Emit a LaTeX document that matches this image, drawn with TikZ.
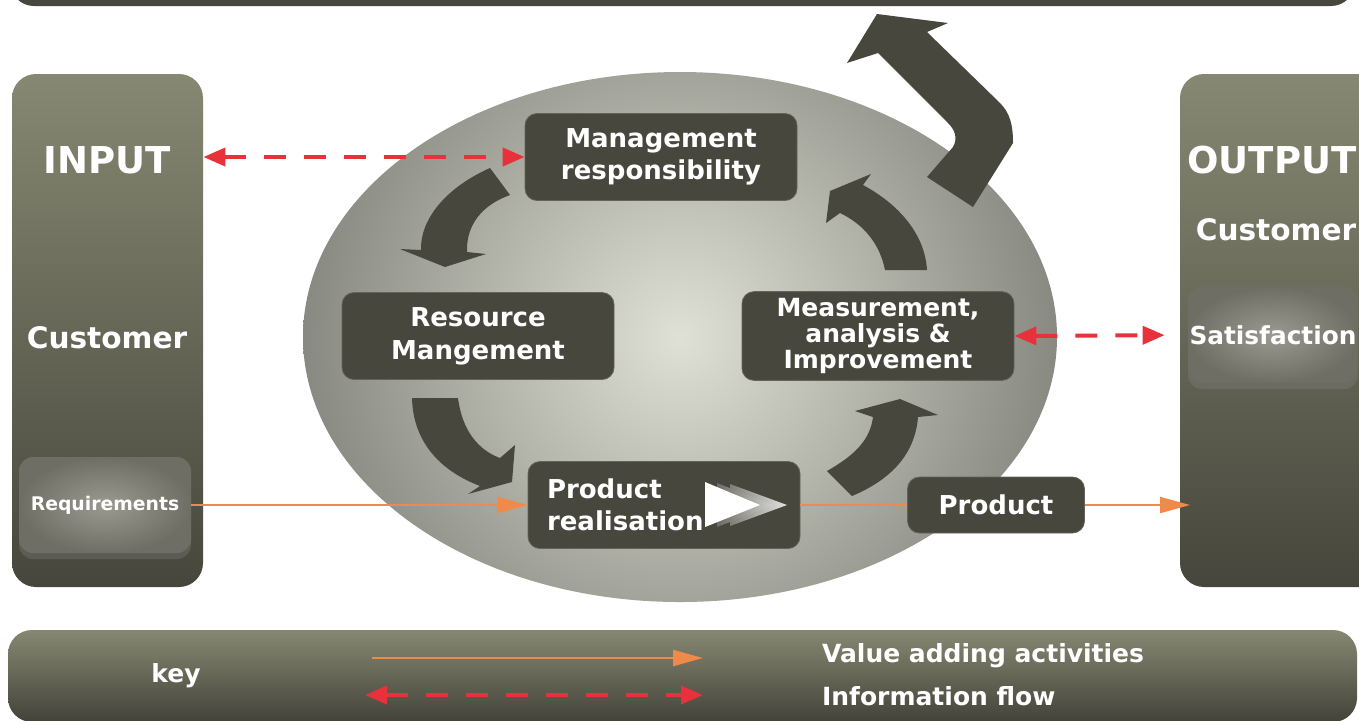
\documentclass[tikz,border=0pt]{standalone}
\usepackage{fontspec}
\setmainfont{DejaVu Sans}
\usetikzlibrary{arrows.meta,shadows}

\definecolor{darkbox}{HTML}{47473D}
\definecolor{coltop}{HTML}{878872}
\definecolor{colbottom}{HTML}{46463C}
\definecolor{infored}{HTML}{E8313A}
\definecolor{valueorange}{HTML}{F08A4B}
\definecolor{ovallight}{HTML}{E0E1D6}
\definecolor{ovaldark}{HTML}{85867D}
\definecolor{softlight}{HTML}{9A9A90}
\definecolor{softdark}{HTML}{6E6E64}

\begin{document}
\begin{tikzpicture}
  [x=0.5pt,y=-0.5pt,
   every node/.style={text=white,font=\bfseries},
   column/.style={top color=coltop,bottom color=colbottom,rounded corners=12pt,minimum height=256.5pt},
   stage/.style={fill=darkbox,draw=darkbox!85!white,rounded corners=6pt,minimum width=136pt,minimum height=43.5pt,align=center,font=\bfseries\fontsize{13}{16}\selectfont},
   softbox/.style={inner color=softlight,outer color=softdark,rounded corners=7pt,minimum width=86pt,minimum height=48pt,inner xsep=0pt,
     drop shadow={opacity=0.35,shadow xshift=0pt,shadow yshift=-3pt}},
   keytext/.style={anchor=west,font=\bfseries\fontsize{12.5}{14}\selectfont},
   info/.style={draw=infored,line width=2pt,dash pattern=on 11pt off 9pt,{Triangle[length=11pt,width=9pt]}-{Triangle[length=11pt,width=9pt]}},
   value/.style={draw=valueorange,line width=1pt,-{Triangle[length=15pt,width=8pt]}},
   bigarrow/.style={fill=darkbox}]
  \useasboundingbox (0,0) rectangle (1359,720);
  \clip (0,0) rectangle (1359,720);

  % top bar and key bar
  \fill[darkbox,rounded corners=12pt] (10,-40) rectangle (1355,6);
  \shade[top color=coltop,bottom color=colbottom!95!black,rounded corners=12pt] (8,630) rectangle (1357,722);

  % oval
  \begin{scope}
    \clip (680,337) ellipse [x radius=377,y radius=265];
    \shade[inner color=ovallight,outer color=ovaldark] (680,337) circle [radius=390];
  \end{scope}

  % input and output columns
  \node[column,minimum width=95.5pt] (incol) at (107.5,330.5) {};
  \node[column,minimum width=110pt] (outcol) at (1290,330.5) {};

  \node[font=\bfseries\fontsize{18.5}{20}\selectfont] (input) at (107,160) {INPUT};
  \node[font=\bfseries\fontsize{14.8}{16}\selectfont] (incust) at (107,338) {Customer};
  \node[softbox,font=\bfseries\fontsize{9.4}{11}\selectfont] (req) at (105,505) {Requirements};

  \node[font=\bfseries\fontsize{18.5}{20}\selectfont] (output) at (1272,160) {OUTPUT};
  \node[font=\bfseries\fontsize{14.8}{16}\selectfont] (outcust) at (1276,230) {Customer};
  \node[softbox,minimum width=85pt,font=\bfseries\fontsize{12.4}{14}\selectfont] (satis) at (1273,335) {Satisfaction};

  % cycle arrows
  \fill[bigarrow] (490,168) .. controls (445,188) and (420,220) .. (421,250) -- (400,249) -- (445,267) -- (486,254) -- (467,252)
    .. controls (466,225) and (482,205) .. (510,195) -- cycle;
  \fill[bigarrow] (412,398) -- (458,398) .. controls (462,430) and (478,450) .. (500,458) -- (515,445) -- (512,482) -- (468,494)
    -- (480,486) .. controls (438,470) and (413,440) .. (412,398) -- cycle;
  \fill[bigarrow] (827,471) .. controls (855,455) and (870,440) .. (873,417) -- (855,411) -- (900,399) -- (938,415) -- (918,417)
    .. controls (915,455) and (890,480) .. (852,496) -- cycle;
  \fill[bigarrow] (885,270) .. controls (880,245) and (865,225) .. (840,213) -- (826,223) -- (830,191) -- (871,174) -- (863,185)
    .. controls (900,205) and (925,235) .. (927,270) -- cycle;
  \fill[bigarrow] (927,177) -- (953,147) .. controls (958,138) and (955,130) .. (948,123) -- (878,53) -- (847,63) -- (877,14)
    -- (948,23) -- (927,32) -- (1000,103) .. controls (1010,113) and (1013,125) .. (1013,143) -- (973,207) -- cycle;

  % process stages
  \node[stage] (mgmt) at (661,157) {Management\\responsibility};
  \node[stage,font=\bfseries\fontsize{13}{16.5}\selectfont] (res) at (478,336) {Resource\\Mangement};
  \node[stage,font=\bfseries\fontsize{12.5}{13}\selectfont] (meas) at (878,336) {Measurement,\\analysis \&\\Improvement};
  \node[stage,align=left,inner xsep=9.5pt,text width=117pt] (prodreal) at (664,505) {Product\\realisation};
  \node[stage,minimum width=88.5pt,minimum height=28pt] (product) at (996,505) {Product};

  \shade[left color=darkbox!70!white,right color=darkbox!15!white] (730,484) -- (787,505) -- (730,526) -- cycle;
  \shade[left color=darkbox!80!white,right color=darkbox!25!white] (717,483) -- (773,505) -- (717,527) -- cycle;
  \fill[white] (705,482) -- (760,505) -- (705,527) -- cycle;

  % flows
  \draw[info] (incol.east |- mgmt.west) -- (mgmt.west);
  \draw[info,shorten >=11.5pt] (meas.east) -- (satis.west);
  \draw[value] (req.east) -- (prodreal.west);
  \draw[valueorange,line width=1pt] (prodreal.east) -- (product.west);
  \coordinate (outin) at (1190,505);
  \draw[value] (product.east) -- (outin);

  % key
  \node[font=\bfseries\fontsize{12.5}{14}\selectfont] (key) at (176,676) {key};
  \coordinate (vstart) at (372,658);
  \coordinate (vend) at (703,658);
  \coordinate (istart) at (365,695);
  \coordinate (iend) at (703,695);
  \draw[value] (vstart) -- (vend);
  \draw[info] (istart) -- (iend);
  \node[keytext] (valuetxt) at (815,656) {Value adding activities};
  \node[keytext] (infotxt) at (815,696) {Information flow};
\end{tikzpicture}
\end{document}
